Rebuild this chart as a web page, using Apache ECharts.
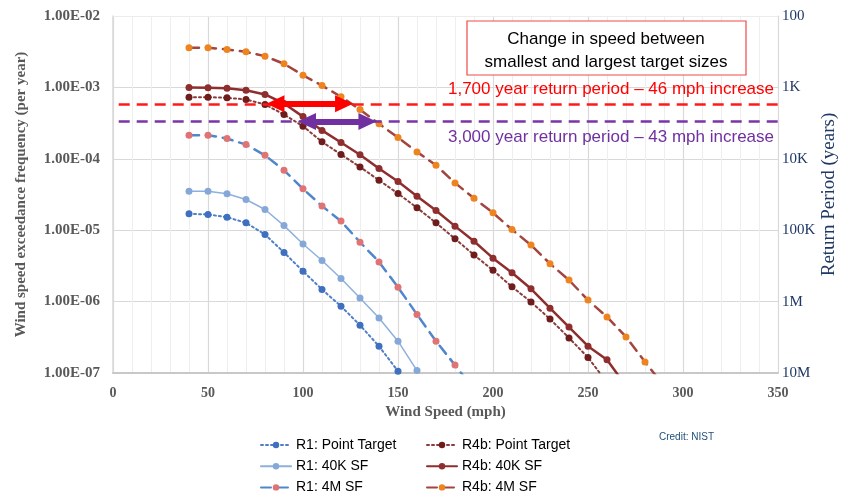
<!DOCTYPE html>
<html>
<head>
<meta charset="utf-8">
<script src="https://cdn.jsdelivr.net/npm/echarts@6/dist/echarts.min.js"></script>
<style>
  html, body { margin: 0; padding: 0; background: #fff; }
  #chart { width: 844px; height: 495px; }
</style>
</head>
<body>
<div id="chart"></div>
<script>
// wind speeds (mph) of the plotted points
const speeds = [40, 50, 60, 70, 80, 90, 100, 110, 120, 130, 140, 150, 160, 170, 180, 190,
                200, 210, 220, 230, 240, 250, 260, 270, 280, 290]

// exceedance frequency (per year)
const r1Point = [1.7e-5, 1.66e-5, 1.52e-5, 1.27e-5, 8.7e-6, 4.88e-6, 2.67e-6, 1.48e-6, 8.6e-7,
                 4.68e-7, 2.37e-7, 1.06e-7]
const r1_40k = [3.5e-5, 3.5e-5, 3.23e-5, 2.69e-5, 1.95e-5, 1.16e-5, 6.4e-6, 3.77e-6, 2.11e-6,
                1.12e-6, 5.9e-7, 2.79e-7, 1.08e-7]
const r1_4m = [2.14e-4, 2.14e-4, 1.92e-4, 1.58e-4, 1.12e-4, 6.9e-5, 3.8e-5, 2.18e-5, 1.34e-5,
               6.8e-6, 3.6e-6, 1.59e-6, 6.6e-7, 2.79e-7, 1.29e-7, 5.9e-8]
const r4bPoint = [7.3e-4, 7.3e-4, 7.15e-4, 6.77e-4, 5.77e-4, 4.17e-4, 2.86e-4, 1.73e-4, 1.15e-4,
                  7.7e-5, 5.0e-5, 3.27e-5, 2.06e-5, 1.27e-5, 7.6e-6, 4.5e-6, 2.75e-6, 1.61e-6,
                  9.9e-7, 5.7e-7, 3.1e-7, 1.65e-7, 7.4e-8]
const r4b_40k = [1.0e-3, 9.9e-4, 9.7e-4, 9.1e-4, 7.96e-4, 5.95e-4, 3.9e-4, 2.5e-4, 1.69e-4,
                 1.14e-4, 7.3e-5, 4.8e-5, 3.0e-5, 1.89e-5, 1.14e-5, 7.0e-6, 4.06e-6, 2.53e-6,
                 1.51e-6, 8.1e-7, 4.4e-7, 2.37e-7, 1.53e-7, 6.6e-8]
const r4b_4m = [3.59e-3, 3.59e-3, 3.4e-3, 3.15e-3, 2.74e-3, 2.14e-3, 1.48e-3, 1.06e-3, 7.4e-4,
                4.9e-4, 3.09e-4, 1.99e-4, 1.25e-4, 8.1e-5, 4.6e-5, 2.8e-5, 1.75e-5, 1.02e-5,
                6.2e-6, 3.4e-6, 2.0e-6, 1.05e-6, 6.1e-7, 3.2e-7, 1.43e-7, 6.6e-8]

// return periods (years) and their speed change arrows (mph)
const periods = [1700, 3000]
const periodText = ['1,700 year return period – 46 mph increase', '3,000 year return period – 43 mph increase']
const arrowSpeeds = [[85.5, 121.6], [102.1, 133.9]]

const rightTickLabels = {100: '100', 1000: '1K', 10000: '10K', 100000: '100K', 1000000: '1M', 10000000: '10M'}

// log gridlines inside each decade
const decades = [1e-7, 1e-6, 1e-5, 1e-4, 1e-3]
const mantissas = [2, 3, 4, 5, 6, 7, 8, 9]

const serif = '"Liberation Serif", "DejaVu Serif", serif'
const sans = '"Liberation Sans", Arial, sans-serif'

function pairs(vals) {
  return vals.map((v, i) => [speeds[i], v])
}

function mkSeries(name, vals, lineColor, dotColor, type, width) {
  return {
    name: name,
    type: 'line',
    data: pairs(vals),
    symbol: 'circle',
    symbolSize: 7,
    clip: true,
    z: 3,
    lineStyle: { color: lineColor, width: width, type: type, cap: 'round' },
    itemStyle: { color: dotColor },
    emphasis: { disabled: true }
  }
}

let myChart = echarts.init(document.getElementById('chart'), null, { renderer: 'canvas' })

let series = [
  mkSeries('R1: Point Target', r1Point, '#4f7fc4', '#3f6fbf', [2, 3], 2),
  mkSeries('R1: 40K SF', r1_40k, '#8fb0dc', '#86a8d8', 'solid', 1.5),
  mkSeries('R1: 4M SF', r1_4m, '#4f86cc', '#e07474', [10, 7], 2.5),
  mkSeries('R4b: Point Target', r4bPoint, '#8a3b3b', '#6e1c1c', [2, 3], 2),
  mkSeries('R4b: 40K SF', r4b_40k, '#8e2e2e', '#8e2e2e', 'solid', 2.5),
  mkSeries('R4b: 4M SF', r4b_4m, '#a3453f', '#ee8420', [10, 7], 2.5)
]

// minor log gridlines
let minorLines = []
decades.forEach(d => mantissas.forEach(m => minorLines.push({ yAxis: d * m })))
series.push({
  type: 'line',
  data: [],
  z: 1,
  markLine: {
    silent: true,
    symbol: ['none', 'none'],
    label: { show: false },
    lineStyle: { color: '#ececec', width: 1, type: 'solid' },
    data: minorLines
  }
})

// dashed return-period lines + speed change arrows
series.push({
  type: 'line',
  data: [],
  z: 4,
  markLine: {
    silent: true,
    symbol: ['none', 'none'],
    label: { show: false },
    data: [
      [{ coord: [3, 1 / periods[0]], lineStyle: { color: '#ff1a1a', width: 2.5, type: [11, 7] } },
       { coord: [350, 1 / periods[0]] }],
      [{ coord: [3, 1 / periods[1]], lineStyle: { color: '#7a35a8', width: 2.5, type: [11, 7] } },
       { coord: [350, 1 / periods[1]] }]
    ]
  }
})
series.push({
  type: 'line',
  data: [],
  z: 5,
  markLine: {
    silent: true,
    symbol: ['triangle', 'triangle'],
    symbolSize: [17, 18],
    label: { show: false },
    data: [
      [{ coord: [arrowSpeeds[0][0], 1 / periods[0]], lineStyle: { color: '#ff0000', width: 6, type: 'solid' }, itemStyle: { color: '#ff0000' } },
       { coord: [arrowSpeeds[0][1], 1 / periods[0]] }],
      [{ coord: [arrowSpeeds[1][0], 1 / periods[1]], lineStyle: { color: '#7030a0', width: 6, type: 'solid' }, itemStyle: { color: '#7030a0' } },
       { coord: [arrowSpeeds[1][1], 1 / periods[1]] }]
    ]
  }
})

let legendBase = {
  top: 433, height: 70, orient: 'vertical', itemGap: 7.2, itemWidth: 30, itemHeight: 8,
  textStyle: { fontFamily: sans, fontSize: 14, color: '#000' },
  selectedMode: false
}

myChart.setOption({
  animation: false,
  backgroundColor: '#fff',
  grid: { left: 113, right: 66, top: 16, bottom: 122, outerBoundsMode: 'none' },
  legend: [
    Object.assign({ left: 255, data: ['R1: Point Target', 'R1: 40K SF', 'R1: 4M SF'] }, legendBase),
    Object.assign({ left: 421, data: ['R4b: Point Target', 'R4b: 40K SF', 'R4b: 4M SF'] }, legendBase)
  ],
  xAxis: {
    type: 'value',
    min: 0, max: 350, interval: 50,
    name: 'Wind Speed (mph)',
    nameLocation: 'middle',
    nameGap: 32,
    nameTextStyle: { fontFamily: serif, fontWeight: 'bold', fontSize: 15, color: '#595959' },
    axisLine: { show: true, lineStyle: { color: '#c8c8c8', width: 2 } },
    axisTick: { show: false },
    axisLabel: { fontFamily: serif, fontWeight: 'bold', fontSize: 14, color: '#595959', margin: 13 },
    splitLine: { show: true, lineStyle: { color: '#d9d9d9', width: 1.2 } },
    minorTick: { show: false, splitNumber: 5 },
    minorSplitLine: { show: true, lineStyle: { color: '#eeeeee', width: 1 } }
  },
  yAxis: [
    {
      type: 'log',
      logBase: 10,
      min: 1e-7, max: 1e-2,
      name: 'Wind speed exceedance frequency (per year)',
      nameLocation: 'middle',
      nameRotate: 90,
      nameGap: 84,
      nameTextStyle: { fontFamily: serif, fontWeight: 'bold', fontSize: 15, color: '#595959' },
      axisLine: { show: true, lineStyle: { color: '#d9d9d9', width: 1.5 } },
      axisTick: { show: false },
      axisLabel: {
        fontFamily: serif, fontWeight: 'bold', fontSize: 15, color: '#595959', margin: 13,
        formatter: function (v) {
          let e = Math.round(Math.log10(v))
          return '1.00E-' + String(-e).padStart(2, '0')
        }
      },
      splitLine: { show: true, lineStyle: { color: '#d9d9d9', width: 1.2 } }
    },
    {
      type: 'log',
      logBase: 10,
      min: 100, max: 1e7,
      inverse: true,
      position: 'right',
      name: 'Return Period (years)',
      nameLocation: 'middle',
      nameRotate: 90,
      nameGap: 42,
      nameMoveOverlap: false,
      nameTextStyle: { fontFamily: serif, fontSize: 19, color: '#1f3864' },
      axisLine: { show: true, lineStyle: { color: '#d9d9d9', width: 1 } },
      axisTick: { show: false },
      axisLabel: {
        fontFamily: serif, fontSize: 15, color: '#1f3864', margin: 4,
        formatter: function (v) { return rightTickLabels[Math.round(v)] || '' }
      },
      splitLine: { show: false }
    }
  ],
  graphic: [
    {
      type: 'rect', x: 467, y: 21, z: 10,
      shape: { width: 279, height: 54 },
      style: { fill: '#fff', stroke: '#ef4a4a', lineWidth: 1.2 }
    },
    {
      type: 'text', x: 606, y: 28, z: 11,
      style: {
        text: 'Change in speed between\nsmallest and largest target sizes',
        font: '17px ' + sans, fill: '#000', align: 'center', lineHeight: 23
      }
    },
    {
      type: 'text', x: 774, y: 89, z: 11,
      style: { text: periodText[0], font: '17px ' + sans, fill: '#ff0000', align: 'right', verticalAlign: 'middle' }
    },
    {
      type: 'text', x: 774, y: 137, z: 11,
      style: { text: periodText[1], font: '17px ' + sans, fill: '#7030a0', align: 'right', verticalAlign: 'middle' }
    },
    {
      type: 'text', x: 659, y: 432, z: 11,
      style: { text: 'Credit: NIST', font: '10px ' + sans, fill: '#1f4e79' }
    }
  ],
  series: series
})
</script>
</body>
</html>
